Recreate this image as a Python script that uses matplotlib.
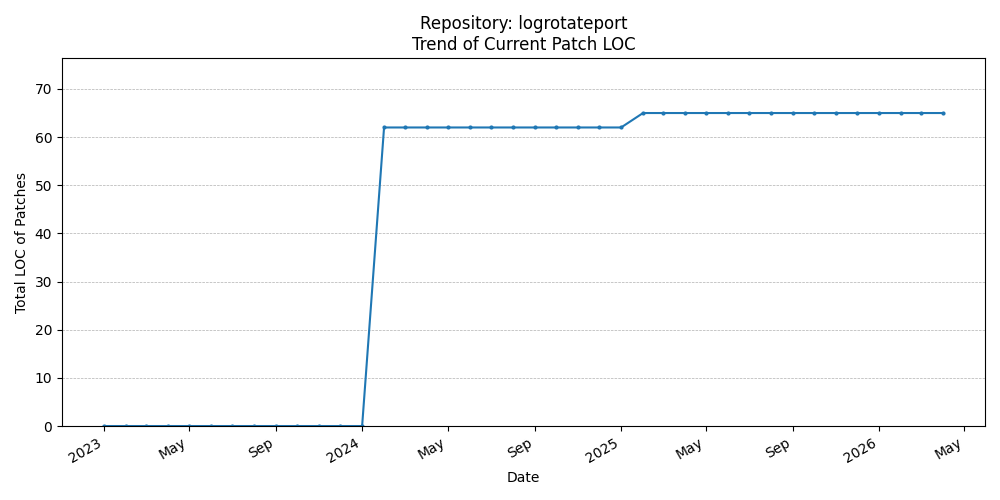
import matplotlib
matplotlib.use("Agg")
import matplotlib.pyplot as plt
import matplotlib.dates as mdates
import pandas as pd

# monthly snapshots of patch LOC
dates = pd.date_range("2023-01-01", "2026-04-01", freq="MS")
loc_values = [0] * 13 + [62] * 12 + [65] * 15

fig, ax = plt.subplots(figsize=(10, 5), dpi=100)
ax.plot(dates, loc_values, marker="o", markersize=2, color="#1f77b4")

locator = mdates.AutoDateLocator()
ax.xaxis.set_major_locator(locator)
ax.xaxis.set_major_formatter(mdates.ConciseDateFormatter(locator))

ax.set_ylim(0, 76.4)
ax.grid(axis="y", linestyle="--", linewidth=0.5, color="#b0b0b0")
ax.set_xlabel("Date")
ax.set_ylabel("Total LOC of Patches")
ax.set_title("Repository: logrotateport\nTrend of Current Patch LOC")
fig.autofmt_xdate()
plt.tight_layout()
plt.savefig("out.png")
